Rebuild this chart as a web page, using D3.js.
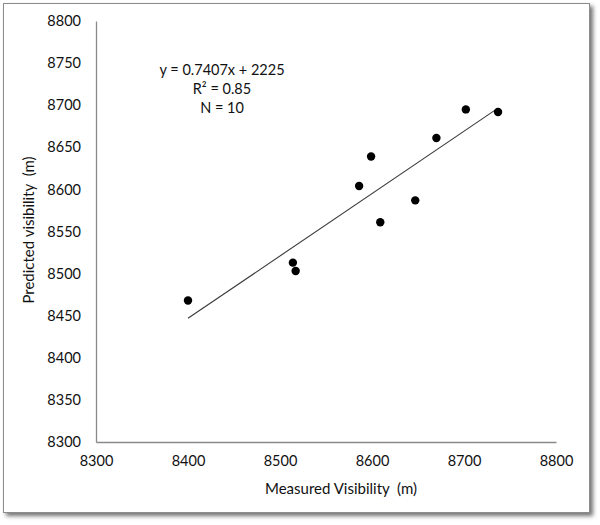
<!DOCTYPE html>
<html><head><meta charset="utf-8">
<script src="https://cdn.jsdelivr.net/npm/d3@7"></script>
<style>body{margin:0;background:#fff}svg{display:block}text{font-family:Lato,"Open Sans",sans-serif;fill:#111}</style>
</head><body>
<script>
const measured = [8400, 8514, 8517, 8586, 8599, 8609, 8647, 8670, 8702, 8737];
const predicted = [8468, 8513, 8503, 8604, 8639, 8561, 8587, 8661, 8695, 8692];
const xTicks = [8300, 8400, 8500, 8600, 8700, 8800];
const yTicks = [8300, 8350, 8400, 8450, 8500, 8550, 8600, 8650, 8700, 8750, 8800];
const slope = 0.7407, intercept = 2225;
const annotation = ["y = 0.7407x + 2225", "R² = 0.85", "N = 10"];

const W = 600, H = 525;
const svg = d3.select("body").append("svg").attr("width", W).attr("height", H);
const defs = svg.append("defs");
const f = defs.append("filter").attr("id", "sh").attr("x", "-5%").attr("y", "-5%").attr("width", "115%").attr("height", "115%");
f.append("feDropShadow").attr("dx", 3).attr("dy", 3).attr("stdDeviation", 2).attr("flood-color", "#000").attr("flood-opacity", 0.55);

svg.append("rect").attr("x", 3.5).attr("y", 3.5).attr("width", 586).attr("height", 509)
  .attr("fill", "#fff").attr("stroke", "#8c8c8c").attr("stroke-width", 1).attr("filter", "url(#sh)");

const x = d3.scaleLinear().domain([8300, 8800]).range([96, 556]);
const y = d3.scaleLinear().domain([8300, 8800]).range([442, 21]);

const xAxis = svg.append("g").attr("transform", `translate(0,${y(8300)})`)
  .call(d3.axisBottom(x).tickValues(xTicks).tickSize(0).tickPadding(14).tickFormat(d3.format("d")));
xAxis.select(".domain").attr("stroke", "#8a8a8a").attr("stroke-width", 1.3);
xAxis.selectAll("text").attr("font-size", 14.5).attr("fill", "#111").attr("font-family", "Lato");

const yAxis = svg.append("g").attr("transform", `translate(${x(8300)},0)`)
  .call(d3.axisLeft(y).tickValues(yTicks).tickSize(0).tickPadding(15).tickFormat(d3.format("d")));
yAxis.select(".domain").attr("stroke", "#8a8a8a").attr("stroke-width", 1.3);
yAxis.selectAll("text").attr("font-size", 14.5).attr("fill", "#111").attr("font-family", "Lato");

// trendline
const xMin = d3.min(measured), xMax = d3.max(measured);
svg.append("line")
  .attr("x1", x(xMin)).attr("y1", y(slope * xMin + intercept))
  .attr("x2", x(xMax)).attr("y2", y(slope * xMax + intercept))
  .attr("stroke", "#3a3a3a").attr("stroke-width", 1.1);

svg.append("g").selectAll("circle").data(measured).join("circle")
  .attr("cx", d => x(d)).attr("cy", (d, i) => y(predicted[i])).attr("r", 4.2).attr("fill", "#000");

svg.append("g").selectAll("text").data(annotation).join("text")
  .attr("x", 222).attr("y", (d, i) => 75 + i * 19).attr("text-anchor", "middle").attr("font-size", 14.5)
  .text(d => d);

svg.append("text").attr("x", 341).attr("y", 494).attr("text-anchor", "middle").attr("font-size", 15)
  .style("white-space", "pre").text("Measured Visibility  (m)");
svg.append("text").attr("transform", "translate(34,230) rotate(-90)").attr("text-anchor", "middle").attr("font-size", 15)
  .style("white-space", "pre").text("Predicted visibility  (m)");
</script>
</body></html>
